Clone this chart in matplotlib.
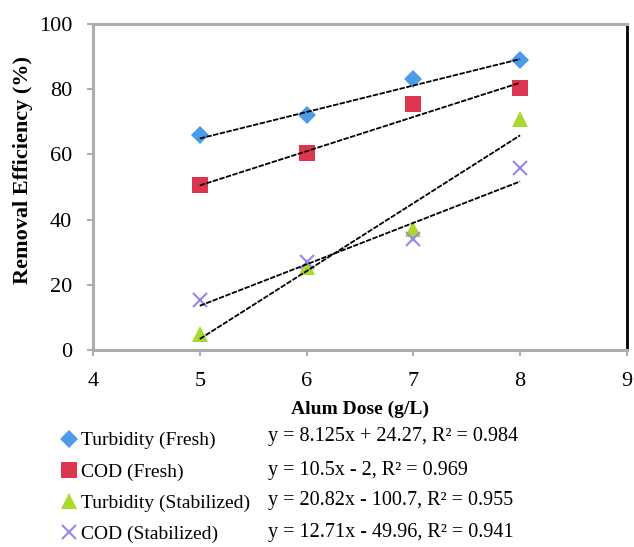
import matplotlib
matplotlib.use("Agg")
import matplotlib.pyplot as plt
import numpy as np

dose = [5, 6, 7, 8]
turb_fresh = [66, 72, 83, 89]
cod_fresh = [50.5, 60.5, 75.5, 80.5]
turb_stab = [5, 25.5, 37, 71]
cod_stab = [15.5, 27, 34, 56]

names = ["Turbidity (Fresh)", "COD (Fresh)", "Turbidity (Stabilized)", "COD (Stabilized)"]
slopes = [8.125, 10.5, 20.82, 12.71]
intercepts = [24.27, -2, -100.7, -49.96]
equations = ["y = 8.125x + 24.27, R² = 0.984",
             "y = 10.5x - 2, R² = 0.969",
             "y = 20.82x - 100.7, R² = 0.955",
             "y = 12.71x - 49.96, R² = 0.941"]

plt.rcParams['font.family'] = ['Liberation Serif', 'DejaVu Serif']

fig = plt.figure(figsize=(6.34, 5.47), dpi=100)
ax = fig.add_axes([0.1467, 0.360, 0.842, 0.596])

series = [turb_fresh, cod_fresh, turb_stab, cod_stab]
colors = ["#4C9BE8", "#DC3550", "#A8D92C", "#9A86E8"]
markers = ["D", "s", "^", "x"]
sizes = [9, 12, 11, 10]

handles = []
for ys, c, m, s, name in zip(series, colors, markers, sizes, names):
    h, = ax.plot(dose, ys, linestyle="none", marker=m, color=c, markersize=s,
                 markeredgewidth=1.5 if m == "x" else 0, label=name)
    handles.append(h)

# trend lines from the fitted equations
xs = np.array([5, 8])
for a, b in zip(slopes, intercepts):
    ax.plot(xs, a * xs + b, color="black", linewidth=1.3, linestyle=(0, (3, 0.8)))

ax.set_xlim(4, 9)
ax.set_ylim(0, 100)
ax.set_xticks([4, 5, 6, 7, 8, 9])
ax.set_yticks([0, 20, 40, 60, 80, 100])
ax.tick_params(labelsize=16, length=4, color="#A8B0B0", width=1.5)
ax.tick_params(axis="x", pad=12)
ax.tick_params(axis="y", pad=11)
for side in ["left", "bottom", "top"]:
    ax.spines[side].set_color("#A8B0B0")
    ax.spines[side].set_linewidth(2.2)
ax.spines["right"].set_color("black")
ax.spines["right"].set_linewidth(2)

ax.set_xlabel("Alum Dose (g/L)", fontsize=14, fontweight="bold", labelpad=7)
ax.set_ylabel("Removal Efficiency (%)", fontsize=16, fontweight="bold")
ax.yaxis.set_label_coords(-0.113, 0.552)

leg = fig.legend(handles=handles, loc="upper left", bbox_to_anchor=(0.085, 0.225),
                 frameon=False, fontsize=14, handlelength=0.8, handletextpad=0.2,
                 labelspacing=0.7, borderaxespad=0)

rows_y = [1 - 437 / 547, 1 - 470 / 547, 1 - 501 / 547, 1 - 533 / 547]
for eq, yy in zip(equations, rows_y):
    fig.text(268 / 634, yy, eq, fontsize=14.5, va="center", ha="left")

fig.savefig("out.png", dpi=100)
